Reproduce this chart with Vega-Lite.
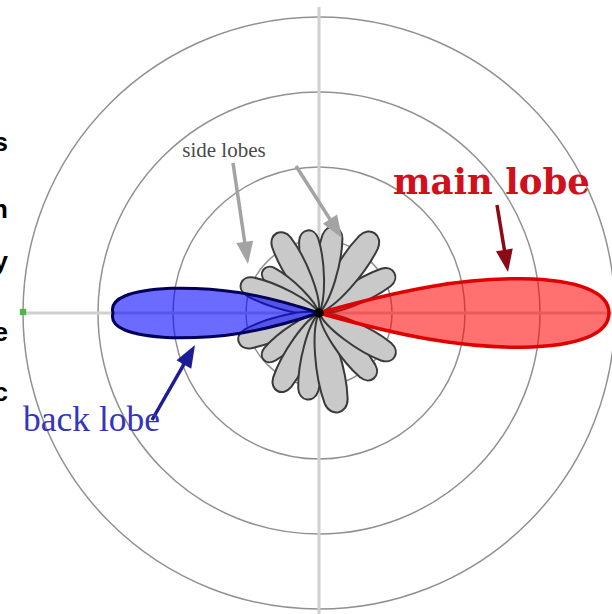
{
  "$schema": "https://vega.github.io/schema/vega-lite/v6.json",
  "width": 612,
  "height": 614,
  "autosize": {"type": "none"},
  "padding": 0,
  "background": "white",
  "config": {"view": {"stroke": null}},
  "datasets": {
    "rings": [
      {"x": 0, "y": 0, "len": 73},
      {"x": 0, "y": 0, "len": 146},
      {"x": 0, "y": 0, "len": 221},
      {"x": 0, "y": 0, "len": 296}
    ],
    "axes": [
      {"x": 0, "y": -301, "x2": 0, "y2": 306},
      {"x": -296, "y": 0, "x2": 293, "y2": 0}
    ],
    "origin": [{"x": -296, "y": 1}],
    "petals": [
      {"x": 0, "y": 0, "angle": 28, "len": 86},
      {"x": 0, "y": 0, "angle": 55, "len": 98},
      {"x": 0, "y": 0, "angle": 80, "len": 88},
      {"x": 0, "y": 0, "angle": 98, "len": 84},
      {"x": 0, "y": 0, "angle": 118, "len": 91},
      {"x": 0, "y": 0, "angle": 142, "len": 71},
      {"x": 0, "y": 0, "angle": 159, "len": 84},
      {"x": 0, "y": 0, "angle": 200, "len": 86},
      {"x": 0, "y": 0, "angle": 220, "len": 73},
      {"x": 0, "y": 0, "angle": 242, "len": 89},
      {"x": 0, "y": 0, "angle": 262, "len": 88},
      {"x": 0, "y": 0, "angle": 281, "len": 102},
      {"x": 0, "y": 0, "angle": 310, "len": 86},
      {"x": 0, "y": 0, "angle": 330, "len": 88}
    ],
    "lobes": [
      {"lobe": "main", "x": 0, "y": 0, "angle": 0, "len": 290},
      {"lobe": "back", "x": 0, "y": 0, "angle": 180, "len": 206}
    ],
    "center": [{"x": 0, "y": 0}],
    "shafts": [
      {"group": "side", "x": -86, "y": 150, "x2": -72.5, "y2": 58.9},
      {"group": "side", "x": -23, "y": 147, "x2": 17.6, "y2": 83.4},
      {"group": "main", "x": 178, "y": 108, "x2": 187.4, "y2": 50.9},
      {"group": "back", "x": -167, "y": -107, "x2": -129, "y2": -40.7}
    ],
    "heads": [
      {"group": "side", "x": -71, "y": 49, "angle": 278.4},
      {"group": "side", "x": 23, "y": 75, "angle": 302.6},
      {"group": "main", "x": 189, "y": 41, "angle": 279.3},
      {"group": "back", "x": -124, "y": -32, "angle": 60.2}
    ],
    "sideLabel": [{"x": -95, "y": 156, "t": "side lobes"}],
    "mainLabel": [{"x": 74, "y": 119, "t": "main lobe"}],
    "backLabel": [{"x": -296, "y": -118, "t": "back lobe"}],
    "edge": [
      {"x": -311, "y": 170, "t": "s"},
      {"x": -311, "y": 103, "t": "n"},
      {"x": -311, "y": 51, "t": "y"},
      {"x": -311, "y": -20, "t": "e"},
      {"x": -311, "y": -80, "t": "c"}
    ]
  },
  "layer": [
    {
      "data": {"name": "rings"},
      "mark": {"type": "point", "shape": "circle", "filled": false, "stroke": "#919191", "strokeWidth": 1.5, "opacity": 1},
      "encoding": {
        "x": {"field": "x", "type": "quantitative", "scale": {"domain": [-319, 293], "nice": false, "zero": false}, "axis": null},
        "y": {"field": "y", "type": "quantitative", "scale": {"domain": [-301, 313], "nice": false, "zero": false}, "axis": null},
        "size": {"field": "len", "type": "quantitative", "scale": {"type": "pow", "exponent": 2, "domain": [0, 296], "range": [0, 350464]}, "legend": null}
      }
    },
    {
      "data": {"name": "axes"},
      "mark": {"type": "rule", "color": "#d0d0d0", "strokeWidth": 3},
      "encoding": {
        "x": {"field": "x", "type": "quantitative", "scale": {"domain": [-319, 293], "nice": false, "zero": false}, "axis": null},
        "y": {"field": "y", "type": "quantitative", "scale": {"domain": [-301, 313], "nice": false, "zero": false}, "axis": null},
        "x2": {"field": "x2"},
        "y2": {"field": "y2"}
      }
    },
    {
      "data": {"name": "origin"},
      "mark": {"type": "point", "shape": "square", "filled": true, "color": "#4cb84c", "size": 40, "opacity": 1},
      "encoding": {
        "x": {"field": "x", "type": "quantitative", "scale": {"domain": [-319, 293], "nice": false, "zero": false}, "axis": null},
        "y": {"field": "y", "type": "quantitative", "scale": {"domain": [-301, 313], "nice": false, "zero": false}, "axis": null}
      }
    },
    {
      "data": {"name": "petals"},
      "mark": {"type": "point", "shape": "M0,0 C0.15,-0.11 0.6,-0.16 0.88,-0.115 C1.03,-0.085 1.03,0.085 0.88,0.115 C0.6,0.16 0.15,0.11 0,0 Z", "filled": true, "fill": "#c9c9c9", "stroke": "#3a3a3a", "strokeWidth": 2, "opacity": 1},
      "encoding": {
        "x": {"field": "x", "type": "quantitative", "scale": {"domain": [-319, 293], "nice": false, "zero": false}, "axis": null},
        "y": {"field": "y", "type": "quantitative", "scale": {"domain": [-301, 313], "nice": false, "zero": false}, "axis": null},
        "size": {"field": "len", "type": "quantitative", "scale": {"type": "pow", "exponent": 2, "domain": [0, 296], "range": [0, 350464]}, "legend": null},
        "angle": {"field": "angle", "type": "quantitative", "scale": {"domain": [0, 360], "range": [360, 0]}, "legend": null}
      }
    },
    {
      "data": {"name": "lobes"},
      "transform": [{"filter": "datum.lobe === 'main'"}],
      "mark": {"type": "point", "shape": "M0,0 C0.3,-0.085 0.5,-0.12 0.7,-0.118 C0.9,-0.115 1,-0.07 1,0 C1,0.07 0.9,0.115 0.7,0.118 C0.5,0.12 0.3,0.085 0,0 Z", "filled": true, "fill": "#ff0000", "fillOpacity": 0.56, "stroke": "#e00000", "strokeWidth": 3.5, "opacity": 1},
      "encoding": {
        "x": {"field": "x", "type": "quantitative", "scale": {"domain": [-319, 293], "nice": false, "zero": false}, "axis": null},
        "y": {"field": "y", "type": "quantitative", "scale": {"domain": [-301, 313], "nice": false, "zero": false}, "axis": null},
        "size": {"field": "len", "type": "quantitative", "scale": {"type": "pow", "exponent": 2, "domain": [0, 296], "range": [0, 350464]}, "legend": null},
        "angle": {"field": "angle", "type": "quantitative", "scale": {"domain": [0, 360], "range": [360, 0]}, "legend": null}
      }
    },
    {
      "data": {"name": "lobes"},
      "transform": [{"filter": "datum.lobe === 'back'"}],
      "mark": {"type": "point", "shape": "M0,0 C0.3,-0.1 0.5,-0.125 0.72,-0.12 C0.92,-0.11 1.02,-0.07 1,0 C1.02,0.07 0.92,0.11 0.72,0.12 C0.5,0.125 0.3,0.1 0,0 Z", "filled": true, "fill": "#0000ff", "fillOpacity": 0.58, "stroke": "#00005a", "strokeWidth": 3, "opacity": 1},
      "encoding": {
        "x": {"field": "x", "type": "quantitative", "scale": {"domain": [-319, 293], "nice": false, "zero": false}, "axis": null},
        "y": {"field": "y", "type": "quantitative", "scale": {"domain": [-301, 313], "nice": false, "zero": false}, "axis": null},
        "size": {"field": "len", "type": "quantitative", "scale": {"type": "pow", "exponent": 2, "domain": [0, 296], "range": [0, 350464]}, "legend": null},
        "angle": {"field": "angle", "type": "quantitative", "scale": {"domain": [0, 360], "range": [360, 0]}, "legend": null}
      }
    },
    {
      "data": {"name": "center"},
      "mark": {"type": "point", "shape": "circle", "filled": true, "color": "#000000", "size": 90, "opacity": 1},
      "encoding": {
        "x": {"field": "x", "type": "quantitative", "scale": {"domain": [-319, 293], "nice": false, "zero": false}, "axis": null},
        "y": {"field": "y", "type": "quantitative", "scale": {"domain": [-301, 313], "nice": false, "zero": false}, "axis": null}
      }
    },
    {
      "data": {"name": "shafts"},
      "mark": {"type": "rule", "strokeWidth": 3.5},
      "encoding": {
        "x": {"field": "x", "type": "quantitative", "scale": {"domain": [-319, 293], "nice": false, "zero": false}, "axis": null},
        "y": {"field": "y", "type": "quantitative", "scale": {"domain": [-301, 313], "nice": false, "zero": false}, "axis": null},
        "x2": {"field": "x2"},
        "y2": {"field": "y2"},
        "color": {"field": "group", "type": "nominal", "scale": {"domain": ["side", "main", "back"], "range": ["#a3a3a3", "#8b0a14", "#1c1c96"]}, "legend": null}
      }
    },
    {
      "data": {"name": "heads"},
      "mark": {"type": "point", "shape": "M0,0 L-1,-0.38 L-1,0.38 Z", "filled": true, "size": 2000, "opacity": 1},
      "encoding": {
        "x": {"field": "x", "type": "quantitative", "scale": {"domain": [-319, 293], "nice": false, "zero": false}, "axis": null},
        "y": {"field": "y", "type": "quantitative", "scale": {"domain": [-301, 313], "nice": false, "zero": false}, "axis": null},
        "angle": {"field": "angle", "type": "quantitative", "scale": {"domain": [0, 360], "range": [360, 0]}, "legend": null},
        "color": {"field": "group", "type": "nominal", "scale": {"domain": ["side", "main", "back"], "range": ["#a3a3a3", "#8b0a14", "#1c1c96"]}, "legend": null}
      }
    },
    {
      "data": {"name": "sideLabel"},
      "mark": {"type": "text", "font": "Liberation Serif", "fontSize": 21, "color": "#4a4a4a", "align": "center", "baseline": "alphabetic"},
      "encoding": {
        "x": {"field": "x", "type": "quantitative", "scale": {"domain": [-319, 293], "nice": false, "zero": false}, "axis": null},
        "y": {"field": "y", "type": "quantitative", "scale": {"domain": [-301, 313], "nice": false, "zero": false}, "axis": null},
        "text": {"field": "t"}
      }
    },
    {
      "data": {"name": "mainLabel"},
      "mark": {"type": "text", "font": "DejaVu Serif", "fontWeight": "bold", "fontSize": 35.5, "color": "#d0101c", "align": "left", "baseline": "alphabetic"},
      "encoding": {
        "x": {"field": "x", "type": "quantitative", "scale": {"domain": [-319, 293], "nice": false, "zero": false}, "axis": null},
        "y": {"field": "y", "type": "quantitative", "scale": {"domain": [-301, 313], "nice": false, "zero": false}, "axis": null},
        "text": {"field": "t"}
      }
    },
    {
      "data": {"name": "backLabel"},
      "mark": {"type": "text", "font": "Liberation Serif", "fontSize": 35.5, "color": "#3535bb", "align": "left", "baseline": "alphabetic"},
      "encoding": {
        "x": {"field": "x", "type": "quantitative", "scale": {"domain": [-319, 293], "nice": false, "zero": false}, "axis": null},
        "y": {"field": "y", "type": "quantitative", "scale": {"domain": [-301, 313], "nice": false, "zero": false}, "axis": null},
        "text": {"field": "t"}
      }
    },
    {
      "data": {"name": "edge"},
      "mark": {"type": "text", "font": "Liberation Sans", "fontWeight": "bold", "fontSize": 26, "color": "#000000", "align": "right", "baseline": "middle"},
      "encoding": {
        "x": {"field": "x", "type": "quantitative", "scale": {"domain": [-319, 293], "nice": false, "zero": false}, "axis": null},
        "y": {"field": "y", "type": "quantitative", "scale": {"domain": [-301, 313], "nice": false, "zero": false}, "axis": null},
        "text": {"field": "t"}
      }
    }
  ]
}
